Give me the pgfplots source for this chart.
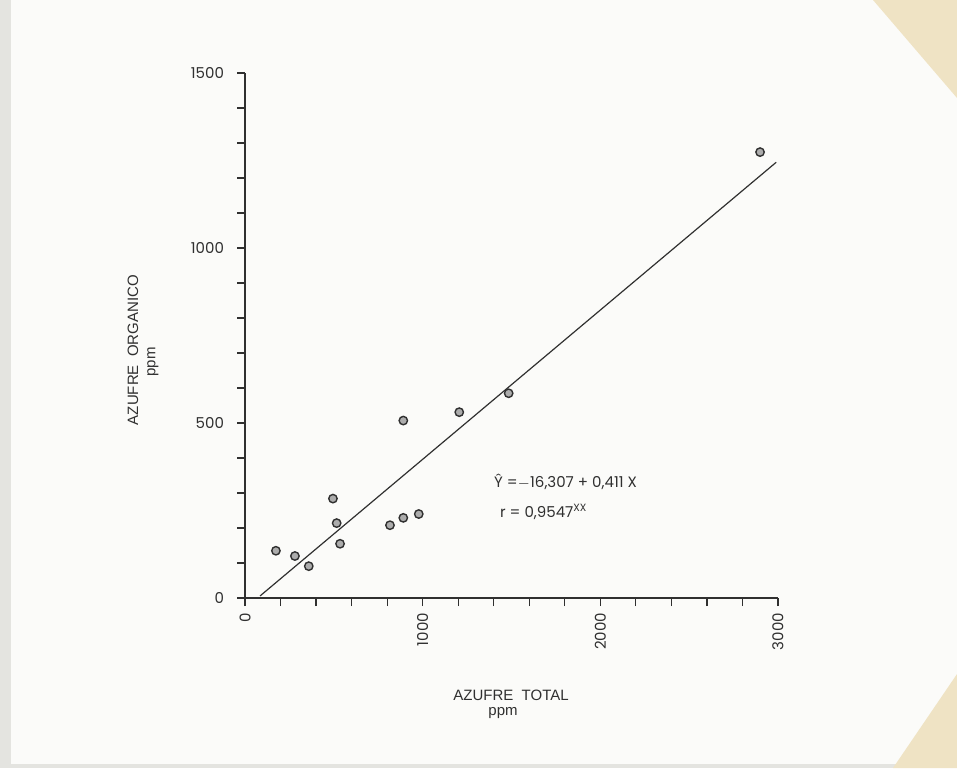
\documentclass[border=0pt]{standalone}
\usepackage{pgfplots}
\pgfplotsset{compat=1.18}
\usepackage{fontspec}
\setmainfont{Liberation Sans}
\newfontfamily\geo{Poppins}
\definecolor{paper}{HTML}{FBFBF9}
\definecolor{edge}{HTML}{E4E4E0}
\definecolor{beige}{HTML}{EFE3C4}
\definecolor{ink}{HTML}{303030}
\begin{document}
\begin{tikzpicture}
% background paper (1 px = 0.5pt, axis origin at px (245,598))
\fill[paper] (-122.5pt,-85pt) rectangle (356pt,299pt);
\fill[edge] (-122.5pt,-85pt) rectangle (-117pt,299pt);
\fill[edge] (-122.5pt,-85pt) rectangle (356pt,-83pt);
\fill[beige] (314pt,299pt) -- (356pt,299pt) -- (356pt,250pt) -- cycle;
\fill[beige] (356pt,-38pt) -- (356pt,-85pt) -- (324pt,-85pt) -- cycle;
\begin{axis}[
  at={(0pt,0pt)}, anchor=south west,
  scale only axis, width=266.5pt, height=262.5pt,
  xmin=0, xmax=3000, ymin=0, ymax=1500,
  axis lines=left, axis line style={-, ink, line width=0.6pt},
  xtick={0,1000,2000,3000}, ytick={0,500,1000,1500},
  minor x tick num=4, minor y tick num=4,
  tick align=outside, major tick length=4pt, minor tick length=4pt,
  every tick/.style={ink, line width=0.6pt},
  clip=false,
  /pgf/number format/assume math mode=true,
  /pgf/number format/1000 sep={},
  ticklabel style={font=\geo\fontsize{7.5}{9}\selectfont, text=ink},
  xticklabel style={rotate=90, anchor=east},
  yticklabel style={anchor=east, xshift=-3pt},
]
\addplot[only marks, mark=*, mark size=2.1pt, mark options={fill=gray!65, draw=ink, line width=0.7pt}]
  coordinates {(174,135) (281,120) (359,91) (495,284) (516,214) (535,155)
               (816,208) (891,229) (891,507) (978,240) (1206,531) (1484,585) (2899,1274)};
\addplot[ink, line width=0.6pt] coordinates {(85,6) (2990,1245)};
\end{axis}
\node[rotate=90, font=\fontsize{7.5}{9}\selectfont, text=ink] at (-56pt,124pt) {AZUFRE\ \ ORGANICO};
\node[rotate=90, font=\fontsize{7.5}{9}\selectfont, text=ink] at (-46pt,118pt) {ppm};
\node[font=\fontsize{7.5}{9}\selectfont, text=ink] at (133pt,-48.5pt) {AZUFRE\ \ TOTAL};
\node[font=\fontsize{7.5}{9}\selectfont, text=ink] at (129pt,-57.5pt) {ppm};
\node[anchor=west, font=\geo\fontsize{7.5}{9}\selectfont, text=ink] at (121pt,58pt) {\^{Y} =$-$16,307 + 0,411 X};
\node[anchor=west, font=\geo\fontsize{7.5}{9}\selectfont, text=ink] at (124pt,43pt) {r = 0,9547\textsuperscript{XX}};
\end{tikzpicture}
\end{document}
